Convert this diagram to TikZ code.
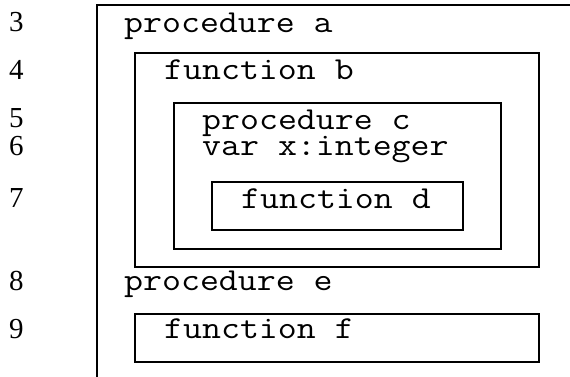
\documentclass[tikz,border=0pt]{standalone}
\usepackage{fontspec}
\setmainfont{Liberation Serif}
\newcommand{\codetext}[1]{\scalebox{1.15}[1]{\ttfamily\fontsize{32}{32}\selectfont #1}}
\begin{document}
\begin{tikzpicture}[x=1pt,y=-1pt,
  code/.style={anchor=base west,inner sep=0pt},
  lineno/.style={anchor=base west,inner sep=0pt,font=\fontsize{29}{29}\selectfont},
  frame/.style={draw,line width=1.6pt},
  block/.style={draw,line width=1.8pt}]
\useasboundingbox (0,0) rectangle (570,377);
% line numbers
\node[lineno] (n3) at (9,32) {3};
\node[lineno] (n4) at (9,80) {4};
\node[lineno] (n5) at (9,128) {5};
\node[lineno] (n6) at (9,155) {6};
\node[lineno] (n7) at (9,207) {7};
\node[lineno] (n8) at (9,290) {8};
\node[lineno] (n9) at (9,338) {9};
% outer program frame (open at right and bottom)
\draw[frame] (97,377) -- (97,5) -- (570,5);
% nested blocks
\draw[block] (135,53) rectangle (539,267);
\draw[block] (174,103) rectangle (501,249);
\draw[block] (212,182) rectangle (463,230);
\draw[block] (135,314) rectangle (539,362);
% declarations
\node[code] (pa) at (124,33) {\codetext{procedure a}};
\node[code] (fb) at (164,80) {\codetext{function b}};
\node[code] (pc) at (202,130) {\codetext{procedure c}};
\node[code] (vx) at (202,155) {\codetext{var x:integer}};
\node[code] (fd) at (241,208) {\codetext{function d}};
\node[code] (pe) at (124,290) {\codetext{procedure e}};
\node[code] (ff) at (164,338) {\codetext{function f}};
\end{tikzpicture}
\end{document}
